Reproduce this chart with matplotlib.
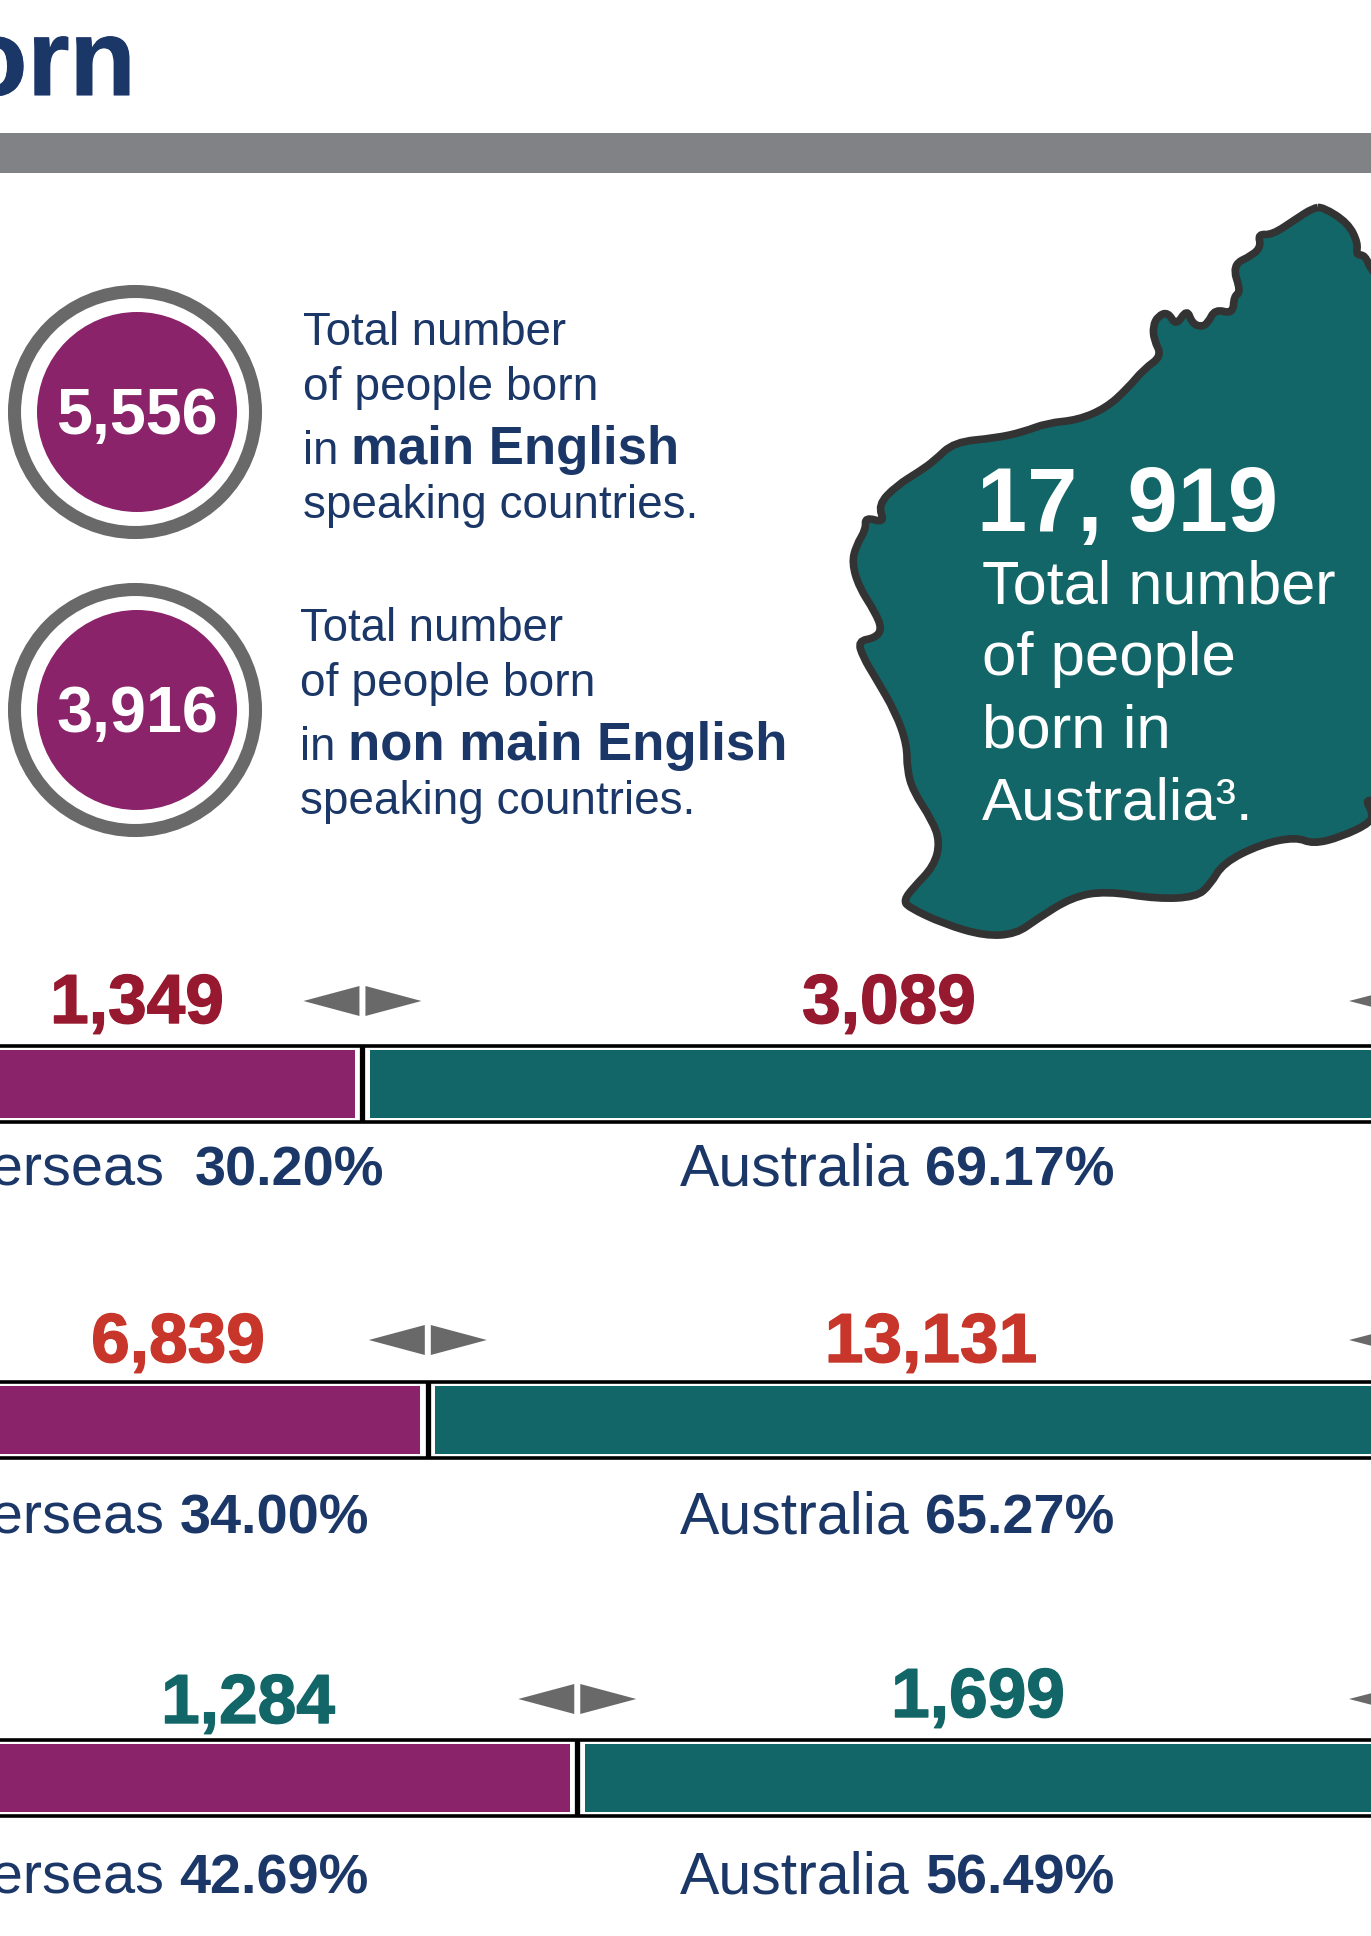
import matplotlib
matplotlib.use("Agg")
import matplotlib.pyplot as plt
import matplotlib.patheffects as pe
from matplotlib.patches import Circle, PathPatch, Polygon, Rectangle
from matplotlib.path import Path

plt.rcParams["font.family"] = ["Liberation Sans", "DejaVu Sans"]

NAVY = "#1b3768"
PURPLE = "#8a2369"
TEAL = "#136667"
GREY = "#696969"

# kola z liczbami
circle_values = ["5,556", "3,916"]
circle_bold = ["main English", "non main English"]

# slupki
overseas_pct = [30.20, 34.00, 42.69]
australia_pct = [69.17, 65.27, 56.49]
overseas_count = ["1,349", "6,839", "1,284"]
australia_count = ["3,089", "13,131", "1,699"]
count_colors = ["#97192f", "#c8352a", "#136667"]

australia_total = "17, 919"

# obrys mapy (WA), w pikselach obrazka
map_outline = [
    (1323, 207), (1348, 223), (1358, 243), (1356, 255), (1365, 255), (1372, 272), (1400, 300),
    (1400, 800), (1372, 800), (1366, 801), (1372, 811), (1372, 822), (1341, 837), (1313, 844),
    (1296, 837), (1261, 844), (1223, 863), (1210, 885), (1196, 897), (1158, 899), (1106, 891),
    (1072, 897), (1037, 919), (1016, 934), (985, 936), (944, 924), (908, 907), (904, 900),
    (913, 888), (934, 866), (940, 842), (932, 820), (913, 791), (907, 769), (907, 745),
    (896, 713), (875, 677), (863, 657), (858, 641), (875, 638), (882, 629), (875, 612),
    (859, 587), (852, 563), (856, 546), (866, 529), (865, 517), (885, 523), (878, 505),
    (896, 486), (920, 471), (934, 461), (954, 442), (996, 438), (1023, 432), (1047, 423),
    (1078, 420), (1106, 408), (1127, 389), (1144, 369), (1162, 356), (1154, 340), (1153, 326),
    (1158, 316), (1168, 312), (1176, 326), (1187, 309), (1192, 323), (1201, 327), (1208, 323),
    (1215, 309), (1233, 314), (1234, 296), (1241, 292), (1232, 265), (1253, 255), (1261, 246),
    (1258, 234), (1272, 235), (1296, 219), (1313, 208),
]


def smooth_path(pts):
    # krzywa przez srodki odcinkow, naroza zostaja lekko zaokraglone
    mids = [((pts[i][0] + pts[(i + 1) % len(pts)][0]) / 2,
             (pts[i][1] + pts[(i + 1) % len(pts)][1]) / 2) for i in range(len(pts))]
    verts = [mids[-1]]
    codes = [Path.MOVETO]
    for i in range(len(pts)):
        verts += [pts[i], mids[i]]
        codes += [Path.CURVE3, Path.CURVE3]
    return Path(verts, codes)


def main():
    fig = plt.figure(figsize=(13.71, 19.36), dpi=100, facecolor="white")

    # os w pikselach dla calej grafiki
    ax = fig.add_axes([0, 0, 1, 1])
    ax.set_xlim(0, 1371)
    ax.set_ylim(1936, 0)
    ax.axis("off")

    # os slupkow: x w procentach
    ax_bar = fig.add_axes([0, 0, 1, 1], sharey=ax)
    px_per_pct = 17.2
    x0 = -157
    ax_bar.set_xlim(-x0 / px_per_pct, (1371 - x0) / px_per_pct)
    ax_bar.axis("off")
    ax_bar.patch.set_alpha(0)

    # tytul i pasek
    ax.text(136, 95, "born", fontsize=78, fontweight="bold", color=NAVY, ha="right", va="baseline",
            path_effects=[pe.withStroke(linewidth=0.8, foreground=NAVY)])
    ax.add_patch(Rectangle((0, 133), 1371, 40, fc="#808285", ec="none"))

    # kola
    circle_y = [412, 710]
    for y, val in zip(circle_y, circle_values):
        ax.add_patch(Circle((135, y), 120.5, fc="none", ec=GREY, lw=9.4))
        ax.add_patch(Circle((137, y), 100, fc=PURPLE, ec="none"))
        ax.text(137, y + 22, val, fontsize=46.5, fontweight="bold", color="white", ha="center", va="baseline")

    # opisy obok kol
    desc_x = [303, 300]
    desc_base = [(345, 400, 464, 518), (641, 696, 760, 814)]
    for x, base, bold in zip(desc_x, desc_base, circle_bold):
        ax.text(x, base[0], "Total number", fontsize=32.8, color=NAVY, va="baseline")
        ax.text(x, base[1], "of people born", fontsize=33.2, color=NAVY, va="baseline")
        ax.text(x, base[2], "in", fontsize=32.8, color=NAVY, va="baseline")
        ax.text(x + 48, base[2], bold, fontsize=38, fontweight="bold", color=NAVY, va="baseline")
        ax.text(x, base[3], "speaking countries.", fontsize=33, color=NAVY, va="baseline")

    # mapa
    ax.add_patch(PathPatch(smooth_path(map_outline), fc=TEAL, ec="#333333", lw=5.5, joinstyle="round"))
    ax.text(977, 531, australia_total, fontsize=65, fontweight="bold", color="white", va="baseline")
    lines = ["Total number", "of people", "born in", "Australia³."]
    sizes = [44, 44.5, 44.5, 43.5]
    for y, line, fs in zip([603, 675, 747, 820], lines, sizes):
        ax.text(982, y, line, fontsize=fs, color="white", va="baseline")

    # slupki
    bar_y = [1084, 1420, 1778]
    gap = 7.5 / px_per_pct
    line_half = 38
    bar_h = 68
    for y, ov, au in zip(bar_y, overseas_pct, australia_pct):
        ax_bar.barh(y, ov - gap + 20, left=-20, height=bar_h, color=PURPLE)
        ax_bar.barh(y, au + 20, left=ov + gap, height=bar_h, color=TEAL)
        ax.plot([0, 1371], [y - line_half, y - line_half], color="black", lw=2.6, solid_capstyle="butt")
        ax.plot([0, 1371], [y + line_half, y + line_half], color="black", lw=2.6, solid_capstyle="butt")
        ax_bar.vlines(ov, y - line_half, y + line_half, color="black", lw=3.8)

    # strzalki nad slupkami
    arrow_y = [1001, 1340, 1699]
    for ay, ov in zip(arrow_y, overseas_pct):
        cx = x0 + ov * px_per_pct
        ax.add_patch(Polygon([(cx - 3, ay - 15), (cx - 3, ay + 15), (cx - 59, ay)], fc=GREY, ec="none"))
        ax.add_patch(Polygon([(cx + 3, ay - 15), (cx + 3, ay + 15), (cx + 59, ay)], fc=GREY, ec="none"))
        ax.add_patch(Polygon([(1407, ay - 15), (1407, ay + 15), (1349, ay)], fc=GREY, ec="none"))

    # liczby, troche grubsze niz zwykly bold
    ov_cx = [137, 178, 248]
    au_cx = [889, 931, 978]
    ov_base = [1023, 1362, 1723]
    au_base = [1023, 1362, 1717]
    for i in range(3):
        heavy = [pe.withStroke(linewidth=1.0, foreground=count_colors[i])]
        ax.text(ov_cx[i], ov_base[i], overseas_count[i], fontsize=50, fontweight="bold",
                color=count_colors[i], ha="center", va="baseline", path_effects=heavy)
        ax.text(au_cx[i], au_base[i], australia_count[i], fontsize=50, fontweight="bold",
                color=count_colors[i], ha="center", va="baseline", path_effects=heavy)

    # podpisy pod slupkami
    label_base = [1186, 1534, 1893]
    pct_right = [384, 369, 369]
    for i in range(3):
        b = label_base[i]
        ax.text(164, b, "Overseas", fontsize=41.5, color=NAVY, ha="right", va="baseline")
        ax.text(pct_right[i], b, f"{overseas_pct[i]:.2f}%", fontsize=40.2, fontweight="bold",
                color=NAVY, ha="right", va="baseline")
        ax.text(680, b, "Australia", fontsize=42.5, color=NAVY, va="baseline")
        ax.text(925, b, f"{australia_pct[i]:.2f}%", fontsize=40.2, fontweight="bold", color=NAVY, va="baseline")

    fig.savefig("out.png", dpi=100)


if __name__ == "__main__":
    main()
